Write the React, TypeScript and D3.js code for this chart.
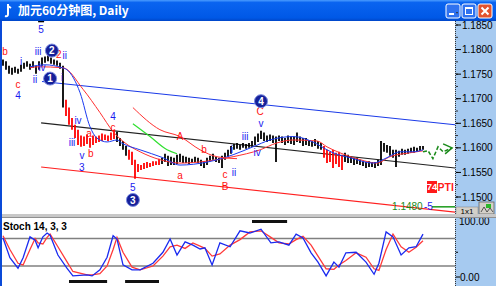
import React from "react";
import * as d3 from "d3";

// ---------- DATA ----------
const barHigh = [
  1.1780, 1.1776, 1.1767, 1.1763, 1.1765, 1.1761, 1.1769, 1.1773, 1.1776, 1.1771,
  1.1776, 1.1767, 1.1776, 1.1784, 1.1786, 1.1788, 1.1784, 1.1780, 1.1778, 1.1773,
  1.1767, 1.1698, 1.1682, 1.1661, 1.1647, 1.1637, 1.1625, 1.1623, 1.1627, 1.1620,
  1.1625, 1.1623, 1.1625, 1.1629, 1.1627, 1.1625, 1.1631, 1.1637, 1.1633, 1.1620,
  1.1614, 1.1604, 1.1596, 1.1592, 1.1576, 1.1567, 1.1565, 1.1569, 1.1571, 1.1569,
  1.1573, 1.1573, 1.1578, 1.1580, 1.1588, 1.1584, 1.1582, 1.1580, 1.1586, 1.1588,
  1.1584, 1.1582, 1.1580, 1.1578, 1.1582, 1.1580, 1.1576, 1.1573, 1.1580, 1.1584,
  1.1588, 1.1582, 1.1580, 1.1584, 1.1590, 1.1596, 1.1604, 1.1608, 1.1610, 1.1606,
  1.1610, 1.1608, 1.1610, 1.1614, 1.1623, 1.1629, 1.1635, 1.1631, 1.1625, 1.1627,
  1.1625, 1.1623, 1.1625, 1.1623, 1.1620, 1.1625, 1.1623, 1.1623, 1.1631, 1.1623,
  1.1620, 1.1620, 1.1616, 1.1614, 1.1618, 1.1614, 1.1610, 1.1604, 1.1596, 1.1592,
  1.1596, 1.1590, 1.1592, 1.1586, 1.1590, 1.1586, 1.1582, 1.1580, 1.1580, 1.1576,
  1.1573, 1.1571, 1.1573, 1.1571, 1.1571, 1.1576, 1.1614, 1.1610, 1.1606, 1.1604,
  1.1596, 1.1596, 1.1594, 1.1598, 1.1596, 1.1598, 1.1600, 1.1602, 1.1600, 1.1604, 1.1604,
];
const barLow = [
  1.1767, 1.1759, 1.1751, 1.1749, 1.1753, 1.1751, 1.1755, 1.1761, 1.1765, 1.1759,
  1.1763, 1.1751, 1.1759, 1.1767, 1.1773, 1.1776, 1.1771, 1.1769, 1.1767, 1.1761,
  1.1682, 1.1665, 1.1647, 1.1637, 1.1620, 1.1606, 1.1602, 1.1604, 1.1608, 1.1600,
  1.1606, 1.1610, 1.1612, 1.1614, 1.1616, 1.1614, 1.1616, 1.1618, 1.1612, 1.1604,
  1.1596, 1.1584, 1.1576, 1.1565, 1.1537, 1.1551, 1.1555, 1.1557, 1.1559, 1.1561,
  1.1563, 1.1565, 1.1565, 1.1567, 1.1571, 1.1563, 1.1565, 1.1565, 1.1567, 1.1571,
  1.1569, 1.1569, 1.1567, 1.1569, 1.1571, 1.1569, 1.1563, 1.1559, 1.1565, 1.1573,
  1.1576, 1.1571, 1.1569, 1.1559, 1.1576, 1.1582, 1.1588, 1.1596, 1.1598, 1.1596,
  1.1600, 1.1598, 1.1600, 1.1602, 1.1606, 1.1612, 1.1618, 1.1614, 1.1612, 1.1614,
  1.1610, 1.1571, 1.1614, 1.1610, 1.1606, 1.1610, 1.1608, 1.1606, 1.1612, 1.1610,
  1.1604, 1.1606, 1.1604, 1.1602, 1.1604, 1.1598, 1.1596, 1.1580, 1.1569, 1.1571,
  1.1559, 1.1567, 1.1561, 1.1555, 1.1571, 1.1569, 1.1569, 1.1565, 1.1567, 1.1565,
  1.1563, 1.1559, 1.1561, 1.1561, 1.1559, 1.1563, 1.1565, 1.1592, 1.1590, 1.1584,
  1.1580, 1.1561, 1.1582, 1.1586, 1.1586, 1.1588, 1.1590, 1.1590, 1.1592, 1.1594, 1.1596,
];
// runs of bar colours: k = black, r = red
const colorRuns: [number, string][] = [[21, "k"], [17, "r"], [4, "k"], [11, "r"], [54, "k"], [7, "r"], [27, "k"]];

const maBlue: [number, number][] = [
  [9, 1.1765], [14, 1.1769], [19.7, 1.1763], [21.3, 1.1759], [25.7, 1.1712], [29, 1.1643],
  [31.3, 1.1620], [34.7, 1.1612], [38, 1.1616], [39.5, 1.1610], [45.7, 1.1596], [53.3, 1.1580],
  [59, 1.1565], [68, 1.1571], [76.7, 1.1586], [83.3, 1.1602], [89, 1.1616], [96.7, 1.1623],
  [103.3, 1.1612], [108, 1.1596], [110, 1.1590], [115.7, 1.1580], [123.3, 1.1569], [128, 1.1580],
  [132.3, 1.1592], [136.7, 1.1592], [140, 1.1596],
];
const maRed: [number, number][] = [
  [9, 1.1763], [11.7, 1.1765], [20, 1.1763], [26.7, 1.1719], [32.3, 1.1672], [36.7, 1.1633],
  [40.7, 1.1610], [45.7, 1.1592], [52.3, 1.1576], [59, 1.1569], [68, 1.1573], [76.7, 1.1582],
  [85.7, 1.1596], [91.3, 1.1610], [96.7, 1.1616], [104.7, 1.1614], [108, 1.1602], [112.3, 1.1590],
  [119, 1.1576], [124.7, 1.1569], [129, 1.1582], [135.7, 1.1590], [140, 1.1594],
];
const maRed2: [number, number][] = [
  [43.3, 1.1682], [52.3, 1.1637], [59, 1.1623], [65.7, 1.1596], [71.3, 1.1582], [78, 1.1578],
];
const maGreen: [number, number][] = [[43.3, 1.1649], [49, 1.1623], [54.7, 1.1596], [58, 1.1588]];

const channelBlue: [number, number][] = [[13, 1.1735], [150.7, 1.1647]];
const channelBlack: [number, number][] = [[12.7, 1.1651], [150.7, 1.1559]];
const channelRed: [number, number][] = [[12.7, 1.1561], [150.7, 1.1469]];

const projIdx = [140, 141.7, 143.3, 145, 146.7, 149.7];
const projVal = [1.1592, 1.1594, 1.1578, 1.1602, 1.1592, 1.1600];

const targetLevel = 1.148;
const targetLabel = "1.1480";
const targetCount = "-5";

const priceTicks = [1.185, 1.18, 1.175, 1.17, 1.165, 1.16, 1.155, 1.15];
const priceTickLabels = ["1.1850", "1.1800", "1.1750", "1.1700", "1.1650", "1.1600", "1.1550", "1.1500"];

const stochIdx = [0, 2.3, 5, 6.7, 9, 10.7, 11.7, 13.3, 14.7, 15.7, 18.3, 21.3, 23.3, 28, 29.7, 32.3, 34.7, 36.7, 38, 40,
  43, 45.7, 50, 53.3, 55.7, 58, 60.7, 63.3, 65.7, 67.3, 69.7, 72.3, 75.7, 79, 82.3, 86, 89.3, 92, 95.3, 97.7,
  100, 102.7, 105, 107.7, 110.3, 112, 114.3, 117.7, 121, 123.7, 125.3, 127.7, 130, 132.7, 135.3, 137.7, 140];
const stochK = [71, 35, 16, 35, 73, 67, 53, 73, 80, 76, 40, 16, 2, 4, 2, 13, 36, 75, 69, 22,
  13, 13, 25, 45, 69, 40, 64, 58, 51, 53, 22, 62, 55, 84, 80, 87, 62, 64, 58, 78,
  71, 44, 27, 2, 27, 18, 44, 45, 27, 5, 25, 82, 73, 40, 53, 55, 78];
const stochD = [75, 50, 25, 22, 50, 70, 62, 60, 72, 78, 55, 28, 10, 4, 4, 6, 20, 50, 72, 45,
  18, 13, 20, 38, 55, 58, 52, 62, 56, 52, 38, 42, 58, 68, 82, 84, 72, 62, 60, 68,
  74, 58, 38, 15, 14, 22, 30, 44, 36, 15, 12, 50, 78, 55, 45, 54, 66];
const stochUpper = 70;
const stochLower = 20;
const stochLowZones: [number, number][] = [[22, 34.7], [40.7, 52]];
const stochHighZones: [number, number][] = [[83, 94.7]];

// wave labels: [text, index, price, colour]
const waveLabels: [string, number, number, string][] = [
  ["5", 12.7, 1.1841, "b"], ["b", 0.7, 1.1796, "r"], ["iii", 11.7, 1.1796, "b"],
  ["2", 18.6, 1.1790, "r"], ["ii", 20.6, 1.1787, "b"], ["i", 6, 1.1776, "b"],
  ["iv", 13, 1.1763, "b"], ["ii", 10.7, 1.1739, "b"], ["i", 19.7, 1.1743, "b"],
  ["c", 5, 1.1729, "r"], ["4", 5, 1.1706, "b"], ["iv", 25, 1.1655, "b"],
  ["a", 28.7, 1.1629, "r"], ["iii", 23, 1.1610, "b"], ["b", 29.3, 1.1588, "r"],
  ["v", 26.3, 1.1585, "b"], ["3", 26.3, 1.1560, "b"], ["4", 36.7, 1.1663, "b"],
  ["c", 36.7, 1.1641, "r"], ["5", 43.3, 1.1520, "b"], ["A", 59, 1.1623, "r"],
  ["b", 67, 1.1596, "r"], ["a", 59, 1.1543, "r"], ["i", 76.3, 1.1596, "b"],
  ["iii", 80.7, 1.1623, "b"], ["ii", 77, 1.1549, "b"], ["c", 74, 1.1546, "r"],
  ["B", 74, 1.1521, "r"], ["v", 86, 1.1649, "b"], ["C", 85.7, 1.1673, "r"],
  ["iv", 84.7, 1.1590, "b"],
];
const circleLabels: [string, number, number][] = [
  ["2", 16.3, 1.1798], ["1", 15.7, 1.1741], ["3", 43.3, 1.1494], ["4", 86, 1.1695],
];

export default function App() {
  const x = d3.scaleLinear().domain([0, 140]).range([3, 423]);
  const y = d3.scaleLinear().domain([1.15, 1.185]).range([197, 25]);
  const sy = d3.scaleLinear().domain([0, 100]).range([277, 222]);

  const colors: string[] = [];
  colorRuns.forEach(([n, c]) => { for (let k = 0; k < n; k++) colors.push(c); });

  const smooth = d3.line<[number, number]>().x(d => x(d[0])).y(d => y(d[1])).curve(d3.curveMonotoneX);
  const straight = d3.line<[number, number]>().x(d => x(d[0])).y(d => y(d[1]));
  const stochLine = d3.line<number>().x((_, k) => x(stochIdx[k])).y(v => sy(v));
  const projPts: [number, number][] = projIdx.map((v, k) => [v, projVal[k]]);
  const last = projPts[projPts.length - 1];
  const ax = x(last[0]), ay = y(last[1]);

  const blue = "#1a1af0";
  const red = "#ff1010";
  const lblFont = "Liberation Sans, Arial, sans-serif";
  const minorTicks = d3.range(1.15, 1.1876, 0.0025);

  return (
    <svg width={496} height={286} style={{ position: "fixed", left: 0, top: 0 }}>
      <defs>
        <linearGradient id="tb" x1="0" y1="0" x2="0" y2="1">
          <stop offset="0" stopColor="#4a9cff" />
          <stop offset="0.12" stopColor="#0a64f0" />
          <stop offset="0.85" stopColor="#0058e6" />
          <stop offset="1" stopColor="#0046c8" />
        </linearGradient>
        <clipPath id="mainClip"><rect x={2} y={21} width={453} height={193} /></clipPath>
        <clipPath id="stClip"><rect x={2} y={218} width={453} height={68} /></clipPath>
      </defs>

      <rect x={0} y={0} width={496} height={286} fill="#ffffff" />
      {/* title bar */}
      <rect x={0} y={0} width={496} height={21} fill="url(#tb)" />
      <path d="M8,4 L8,14 Q8,17 5,16 M8,6 L11,8" stroke="#fff" strokeWidth={2} fill="none" />
      <text x={18} y={15} fill="#fff" fontSize={12} fontWeight="bold" fontFamily="Noto Sans CJK SC, sans-serif">加元60分钟图, Daily</text>
      <g>
        <rect x={446} y={4} width={14} height={14} rx={2} fill="#2f72f0" stroke="#fff" strokeWidth={1} />
        <rect x={449} y={13} width={5} height={2} fill="#fff" />
        <rect x={462} y={4} width={14} height={14} rx={2} fill="#2f72f0" stroke="#fff" strokeWidth={1} />
        <rect x={465.5} y={7.5} width={7} height={7} fill="none" stroke="#fff" strokeWidth={1} />
        <rect x={465.5} y={7.5} width={7} height={1.5} fill="#fff" />
        <rect x={478} y={4} width={14} height={14} rx={2} fill="#e2532e" stroke="#fff" strokeWidth={1} />
        <path d="M481.5,7.5 L488.5,14.5 M488.5,7.5 L481.5,14.5" stroke="#fff" strokeWidth={2} />
      </g>

      {/* axis panels */}
      <rect x={455} y={21} width={41} height={265} fill="#a6caf0" />
      <line x1={455.5} y1={21} x2={455.5} y2={286} stroke="#333" strokeWidth={1} strokeDasharray="1,1" />

      {minorTicks.map((t, k) => (
        <line key={"m" + k} x1={456} x2={458} y1={y(t)} y2={y(t)} stroke="#333" strokeWidth={1} />
      ))}
      {priceTicks.map((t, k) => (
        <g key={"t" + k}>
          <line x1={456} x2={461} y1={y(t)} y2={y(t)} stroke="#000" strokeWidth={1} />
          <text x={462} y={y(t)} dy="0.35em" fontSize={10} fontFamily={lblFont} fill="#000">{priceTickLabels[k]}</text>
        </g>
      ))}

      {/* main chart */}
      <g clipPath="url(#mainClip)">
        <path d={straight(channelBlue) || ""} stroke="#1a3ae8" strokeWidth={1.2} fill="none" />
        <path d={straight(channelBlack) || ""} stroke="#222" strokeWidth={1.2} fill="none" />
        <path d={straight(channelRed) || ""} stroke="#ff2020" strokeWidth={1.2} fill="none" />

        {barHigh.map((h, i) => (
          <line key={"b" + i} x1={x(i)} x2={x(i)} y1={y(h)} y2={y(barLow[i])}
            stroke={colors[i] === "r" ? "#ff0000" : "#000"} strokeWidth={1.8} />
        ))}

        <path d={smooth(maRed) || ""} stroke="#ff3030" strokeWidth={1} fill="none" />
        <path d={smooth(maBlue) || ""} stroke="#1a3af0" strokeWidth={1} fill="none" />
        <path d={smooth(maRed2) || ""} stroke="#ff3030" strokeWidth={1} fill="none" />
        <path d={smooth(maGreen) || ""} stroke="#30e030" strokeWidth={1.2} fill="none" />

        <path d={straight(projPts) || ""} stroke="#1a8a1a" strokeWidth={1.5} fill="none" strokeDasharray="4,2" />
        <path d={`M${ax - 9},${ay - 4} L${ax},${ay} L${ax - 7},${ay + 6}`} stroke="#1a8a1a" strokeWidth={1.5} fill="none" />

        <line x1={x(143)} x2={x(150.7)} y1={y(targetLevel)} y2={y(targetLevel)} stroke="#1a9a1a" strokeWidth={1.5} />
        <text x={x(129.7)} y={y(targetLevel)} dy="0.35em" fontSize={10} fontFamily={lblFont} fill="#1a8a1a">{targetLabel}</text>
        <text x={x(140.3)} y={y(targetLevel)} dy="0.35em" fontSize={10} fontFamily={lblFont} fill={blue}>{targetCount}</text>

        <line x1={x(11.7)} x2={x(13.7)} y1={y(1.1857)} y2={y(1.1857)} stroke="#000" strokeWidth={1.5} />

        {waveLabels.map(([t, i, p, c], k) => (
          <text key={"w" + k} x={x(i)} y={y(p)} dy="0.35em" textAnchor="middle" fontSize={10}
            fontFamily={lblFont} fill={c === "r" ? red : blue}>{t}</text>
        ))}
        {circleLabels.map(([t, i, p], k) => (
          <g key={"c" + k}>
            <circle cx={x(i)} cy={y(p)} r={6.5} fill="#15209a" stroke="#7a8ae0" strokeWidth={1} />
            <text x={x(i)} y={y(p)} dy="0.36em" textAnchor="middle" fontSize={10} fontWeight="bold"
              fontFamily={lblFont} fill="#fff">{t}</text>
          </g>
        ))}

        <rect x={427} y={181} width={10} height={12} fill="#ff1a1a" />
        <text x={432} y={187} dy="0.36em" textAnchor="middle" fontSize={9.5} fontWeight="bold" fontFamily={lblFont} fill="#fff">74</text>
        <text x={437.5} y={187} dy="0.36em" fontSize={10.5} fontWeight="bold" fontFamily={lblFont} fill="#ff1a1a">PTI</text>
      </g>

      {/* corner widget */}
      <rect x={456} y={207} width={22} height={9} fill="#d4d0c8" stroke="#808080" strokeWidth={0.5} />
      <text x={467} y={211.5} dy="0.35em" textAnchor="middle" fontSize={8} fontFamily={lblFont} fill="#000">1x1</text>
      <rect x={479} y={202} width={15} height={12} fill="#d4d0c8" stroke="#606060" strokeWidth={0.8} />
      <rect x={486} y={204} width={5} height={4} fill="#2ab82a" />
      <path d="M481,212 L484,207 L487,212 L490,208 L493,212" stroke="#333" strokeWidth={0.8} fill="none" />

      {/* stoch axis labels */}
      <text x={459} y={224.5} fontSize={10} fontFamily={lblFont} fill="#000">100.00</text>
      <line x1={456} x2={460} y1={sy(0)} y2={sy(0)} stroke="#000" />
      <line x1={456} x2={458} y1={sy(45)} y2={sy(45)} stroke="#000" />
      <text x={460} y={sy(0)} dy="0.35em" fontSize={10} fontFamily={lblFont} fill="#000">0.00</text>

      {/* separator */}
      <rect x={0} y={214} width={496} height={3} fill="#c8c8c8" />
      <line x1={2} x2={496} y1={217.5} y2={217.5} stroke="#909090" strokeWidth={1} />

      {/* stoch panel */}
      <g clipPath="url(#stClip)">
        <line x1={2} x2={455} y1={sy(stochUpper)} y2={sy(stochUpper)} stroke="#808080" strokeWidth={1.5} />
        <line x1={2} x2={455} y1={sy(stochLower)} y2={sy(stochLower)} stroke="#808080" strokeWidth={1.5} />
        {stochLowZones.map(([a, b], k) => (
          <rect key={"lz" + k} x={x(a)} y={280} width={x(b) - x(a)} height={3} fill="#111" />
        ))}
        {stochHighZones.map(([a, b], k) => (
          <rect key={"hz" + k} x={x(a)} y={220} width={x(b) - x(a)} height={3} fill="#111" />
        ))}
        <path d={stochLine(stochD) || ""} stroke="#ff3a3a" strokeWidth={1.3} fill="none" />
        <path d={stochLine(stochK) || ""} stroke="#1a2af0" strokeWidth={1.3} fill="none" />
        <text x={3} y={229.5} fontSize={10} fontWeight="bold" fontFamily={lblFont} fill="#000">Stoch 14, 3, 3</text>
      </g>

      <rect x={0} y={21} width={2} height={265} fill="#0a4ad8" />
    </svg>
  );
}
